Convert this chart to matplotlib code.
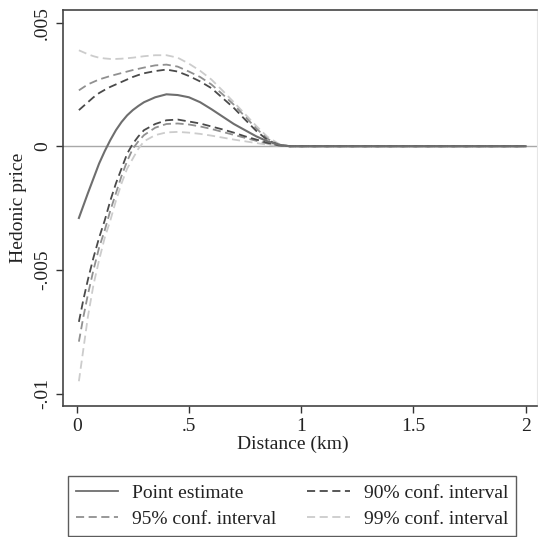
import matplotlib
matplotlib.use('Agg')
import matplotlib.pyplot as plt

plt.rcParams['font.family'] = ['Liberation Serif', 'DejaVu Serif']

# distance grid (km)
dist = [0.01, 0.03, 0.05, 0.075, 0.1, 0.125, 0.15, 0.175, 0.2, 0.225, 0.25,
        0.275, 0.3, 0.35, 0.4, 0.45, 0.5, 0.55, 0.6, 0.65, 0.7, 0.75, 0.8,
        0.85, 0.9, 0.95, 1.0, 1.5, 2.0]

point_est = [-0.0029, -0.0024, -0.0019, -0.0013, -0.0007, -0.0002, 0.00025, 0.00065,
             0.00098, 0.00125, 0.00146, 0.00163, 0.00178, 0.00198, 0.0021, 0.00207,
             0.00198, 0.00178, 0.0015, 0.0012, 0.0009, 0.00065, 0.0004, 0.0002,
             0.00006, 0.0, 0.0, 0.0, 0.0]

lo90 = [-0.0071, -0.0062, -0.0054, -0.0045, -0.0037, -0.0030, -0.0022, -0.0015,
        -0.0009, -0.0003, 0.0001, 0.0004, 0.00065, 0.0009, 0.00105, 0.00108,
        0.001, 0.00092, 0.0008, 0.00068, 0.00055, 0.0004, 0.00027, 0.00014,
        0.00004, 0.0, 0.0, 0.0, 0.0]
hi90 = [0.00146, 0.00162, 0.00178, 0.00198, 0.00215, 0.00228, 0.0024, 0.0025,
        0.0026, 0.0027, 0.0028, 0.00288, 0.00295, 0.00304, 0.0031, 0.00302,
        0.00284, 0.00262, 0.00235, 0.00195, 0.00155, 0.00108, 0.00062, 0.00025,
        0.00005, 0.0, 0.0, 0.0, 0.0]

lo95 = [-0.0079, -0.0069, -0.0060, -0.0050, -0.0041, -0.0034, -0.0026, -0.0019,
        -0.0012, -0.0006, -0.0001, 0.0002, 0.00045, 0.00075, 0.0009, 0.00092,
        0.00088, 0.0008, 0.0007, 0.00058, 0.00046, 0.00034, 0.00022, 0.00011,
        0.00003, 0.0, 0.0, 0.0, 0.0]
hi95 = [0.00226, 0.00238, 0.0025, 0.0026, 0.0027, 0.00277, 0.00284, 0.0029,
        0.00296, 0.00302, 0.00308, 0.00313, 0.00318, 0.00327, 0.0033, 0.00322,
        0.00302, 0.0028, 0.0025, 0.0021, 0.00168, 0.0012, 0.00072, 0.0003,
        0.00007, 0.0, 0.0, 0.0, 0.0]

lo99 = [-0.0095, -0.0082, -0.0069, -0.0056, -0.0046, -0.0037, -0.0030, -0.0022,
        -0.0015, -0.0009, -0.0005, -0.0001, 0.0002, 0.00045, 0.00056, 0.00058,
        0.00055, 0.0005, 0.00043, 0.00035, 0.00027, 0.0002, 0.00013, 0.00006,
        0.00002, 0.0, 0.0, 0.0, 0.0]
hi99 = [0.00388, 0.0038, 0.00372, 0.00364, 0.00358, 0.00355, 0.00353, 0.00353,
        0.00354, 0.00356, 0.00358, 0.00361, 0.00364, 0.00368, 0.00368, 0.00358,
        0.00334, 0.00305, 0.0027, 0.00225, 0.00178, 0.0013, 0.00082, 0.00038,
        0.0001, 0.0, 0.0, 0.0, 0.0]

xticks = [0, 0.5, 1, 1.5, 2]
xtick_labels = ['0', '.5', '1', '1.5', '2']
yticks = [-0.01, -0.005, 0, 0.005]
ytick_labels = ['-.01', '-.005', '0', '.005']

fig = plt.figure(figsize=(5.38, 5.37), dpi=100)
ax = fig.add_axes([0.117, 0.244, 0.881, 0.737])

dash = (0, (4.5, 2.5))
ax.axhline(0, color='#a8a8a8', linewidth=1.0, zorder=1)

ax.plot(dist, hi99, color='#cccccc', linewidth=1.3, linestyle=dash, zorder=2)
ax.plot(dist, lo99, color='#cccccc', linewidth=1.3, linestyle=dash, zorder=2)
ax.plot(dist, hi95, color='#909090', linewidth=1.3, linestyle=dash, zorder=3)
ax.plot(dist, lo95, color='#909090', linewidth=1.3, linestyle=dash, zorder=3)
ax.plot(dist, hi90, color='#4a4a4a', linewidth=1.3, linestyle=dash, zorder=4)
ax.plot(dist, lo90, color='#4a4a4a', linewidth=1.3, linestyle=dash, zorder=4)
ax.plot(dist, point_est, color='#6e6e6e', linewidth=1.5, zorder=5)

ax.set_xlim(-0.061, 2.05)
ax.set_ylim(-0.0105, 0.0055)

ax.set_xticks(xticks)
ax.set_xticklabels(xtick_labels)
ax.set_yticks(yticks)
ax.set_yticklabels(ytick_labels, rotation=90, va='center')
ax.tick_params(direction='out', length=5, width=1, colors='#333333',
               labelsize=14, labelcolor='#222222')

for side in ['left', 'bottom', 'top']:
    ax.spines[side].set_color('#444444')
    ax.spines[side].set_linewidth(1.2)
ax.spines['right'].set_color('#e6e6e6')

ax.set_xlabel('Distance (km)', fontsize=14, color='#222222', labelpad=1)
ax.xaxis.set_label_coords(0.485, -0.075)
ax.set_ylabel('Hedonic price', fontsize=14, color='#222222', labelpad=5)

# legend handles
h_pe, = ax.plot([], [], color='#6e6e6e', linewidth=1.3)
h_90, = ax.plot([], [], color='#4a4a4a', linewidth=1.3, linestyle=dash)
h_95, = ax.plot([], [], color='#909090', linewidth=1.3, linestyle=dash)
h_99, = ax.plot([], [], color='#cccccc', linewidth=1.3, linestyle=dash)

leg = fig.legend([h_pe, h_95, h_90, h_99],
                 ['Point estimate', '95% conf. interval',
                  '90% conf. interval', '99% conf. interval'],
                 ncol=2, loc='lower left', bbox_to_anchor=(0.126, 0.002, 0.833, 0.12),
                 mode='expand', borderaxespad=0, fontsize=14, frameon=True,
                 fancybox=False, handlelength=2.2, handletextpad=0.7,
                 columnspacing=1.5, borderpad=0.4, labelspacing=0.45)
leg.get_frame().set_edgecolor('#333333')
leg.get_frame().set_linewidth(1.0)
for t in leg.get_texts():
    t.set_color('#222222')

plt.savefig('out.png', dpi=100)
